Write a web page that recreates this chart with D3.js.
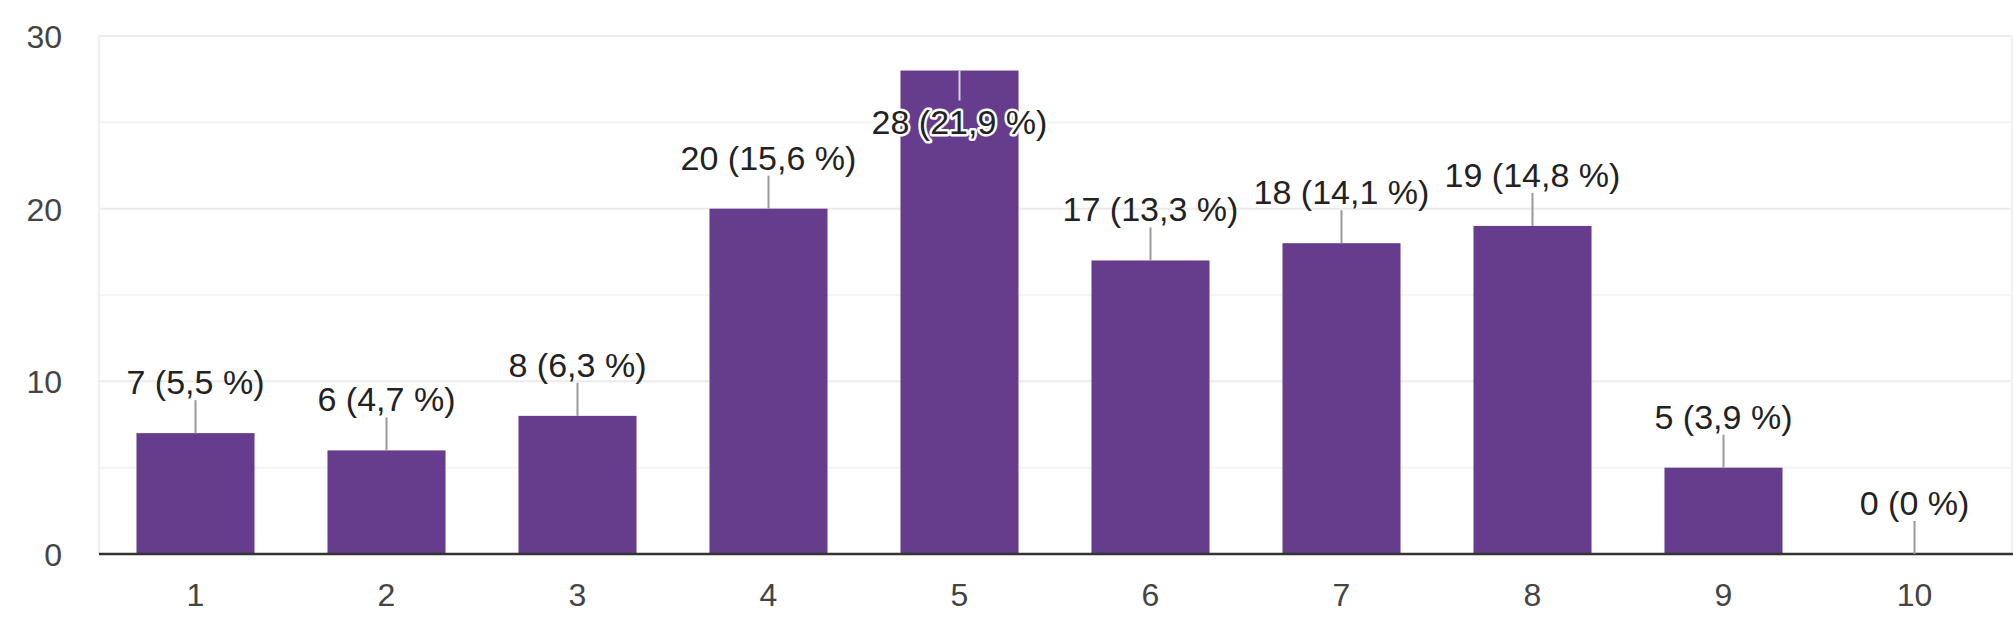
<!DOCTYPE html>
<html><head><meta charset="utf-8">
<script src="https://cdn.jsdelivr.net/npm/d3@7/dist/d3.min.js"></script>
<style>body{margin:0;background:#fff}svg{display:block}</style>
</head><body>
<svg id="c" width="2013" height="626"></svg>
<script>
const categories = ["1","2","3","4","5","6","7","8","9","10"];
const counts = [7,6,8,20,28,17,18,19,5,0];
const percents = ["5,5","4,7","6,3","15,6","21,9","13,3","14,1","14,8","3,9","0"];
const majorTicks = [0,10,20,30];
const minorTicks = [5,15,25];

const svg = d3.select("#c");
const font = "Liberation Sans, Arial, sans-serif";
const x = d3.scaleBand().domain(categories).range([100,2010]).paddingInner(0.382).paddingOuter(0.191);
const y = d3.scaleLinear().domain([0,30]).range([554,36]);

// minor grid
svg.append("g").selectAll("line").data(minorTicks).join("line")
  .attr("x1",99).attr("x2",2012).attr("y1",d=>y(d)).attr("y2",d=>y(d))
  .attr("stroke","#f4f4f4").attr("stroke-width",2);
// major grid
svg.append("g").selectAll("line").data(majorTicks.slice(1)).join("line")
  .attr("x1",99).attr("x2",2012).attr("y1",d=>y(d)).attr("y2",d=>y(d))
  .attr("stroke","#ebebeb").attr("stroke-width",2);
// frame verticals
svg.append("line").attr("x1",99).attr("x2",99).attr("y1",y(30)).attr("y2",y(0)).attr("stroke","#f0f0f0").attr("stroke-width",2);
svg.append("line").attr("x1",2012).attr("x2",2012).attr("y1",y(30)).attr("y2",y(0)).attr("stroke","#f0f0f0").attr("stroke-width",2);

// y axis labels
const yAxis = d3.axisLeft(y).tickValues(majorTicks).tickSize(0).tickPadding(0);
const ya = svg.append("g").attr("transform","translate(62,0)").call(yAxis);
ya.select(".domain").remove();
ya.selectAll("text").attr("font-family",font).attr("font-size",32).attr("fill","#444").attr("dy","0.36em");

// bars
const data = categories.map((c,i)=>({c, v:counts[i], p:percents[i]}));
svg.append("g").selectAll("rect").data(data).join("rect")
  .attr("x",d=>x(d.c)).attr("width",x.bandwidth())
  .attr("y",d=>y(d.v)).attr("height",d=>y(0)-y(d.v))
  .attr("fill","#653d8c");

// baseline
svg.append("line").attr("x1",99).attr("x2",2013).attr("y1",y(0)).attr("y2",y(0)).attr("stroke","#333").attr("stroke-width",2.5);

// x axis labels
const xAxis = d3.axisBottom(x).tickSize(0).tickPadding(0);
const xa = svg.append("g").attr("transform",`translate(0,${y(0)})`).call(xAxis);
xa.select(".domain").remove();
xa.selectAll("text").attr("font-family",font).attr("font-size",32).attr("fill","#444").attr("dy",null).attr("y",52);

// annotations
const ann = svg.append("g");
data.forEach(d=>{
  const cx = x(d.c)+x.bandwidth()/2;
  const top = y(d.v);
  const inside = top - 39 - 26 < y(30);
  if(!inside){
    ann.append("line").attr("x1",cx).attr("x2",cx).attr("y1",top).attr("y2",top-33)
      .attr("stroke","#999").attr("stroke-width",2);
    ann.append("text").attr("x",cx).attr("y",top-39).attr("text-anchor","middle")
      .attr("font-family",font).attr("font-size",34).attr("fill","#222")
      .text(`${d.v} (${d.p} %)`);
  } else {
    ann.append("line").attr("x1",cx).attr("x2",cx).attr("y1",top).attr("y2",top+30)
      .attr("stroke","#d8d0e4").attr("stroke-width",2);
    ann.append("text").attr("x",cx).attr("y",top+63).attr("text-anchor","middle")
      .attr("font-family",font).attr("font-size",34).attr("fill","#222")
      .attr("stroke","#fff").attr("stroke-width",5).attr("stroke-linejoin","round")
      .attr("paint-order","stroke")
      .text(`${d.v} (${d.p} %)`);
  }
});
</script>
</body></html>
